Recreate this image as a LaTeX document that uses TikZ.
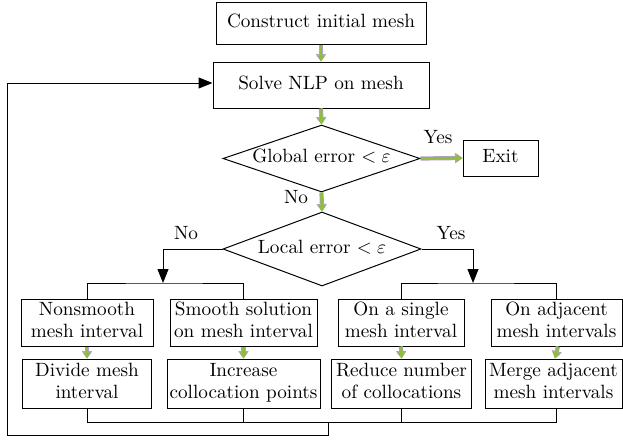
\documentclass[tikz,border=0pt]{standalone}
\usetikzlibrary{shapes.geometric,arrows.meta}
\definecolor{gcol}{HTML}{8DBF3F}
\definecolor{pcol}{HTML}{B99BCF}
\newcommand\bigtxt[1]{\scalebox{1.92}{\fontsize{10}{11.4}\selectfont\begin{tabular}{@{}c@{}}#1\end{tabular}}}
\tikzset{
  box/.style={draw, line width=1pt, rectangle, inner sep=0pt, align=center},
  dia/.style={draw, line width=1pt, diamond, inner sep=0pt},
  lbl/.style={inner sep=0pt},
  line/.style={line width=1pt},
  barrow/.style={line width=1pt, -{Triangle[width=11pt,length=14pt]}},
  garrow/.style={draw=gcol, line width=2.6pt, -{Triangle[width=8pt,length=6pt]},
    preaction={draw=pcol, line width=4.2pt, -{Triangle[width=10pt,length=7.5pt]}}}
}
\begin{document}
\begin{tikzpicture}[x=1pt,y=-1pt]
\useasboundingbox (0,0) rectangle (623,439);
% top chain
\node[box, minimum width=210pt, minimum height=42pt] (c1) at (321,23) {\bigtxt{Construct initial mesh}};
\node[box, minimum width=216pt, minimum height=46pt] (c2) at (321,85) {\bigtxt{Solve NLP on mesh}};
\node[dia, minimum width=197pt, minimum height=67pt] (d1) at (321.5,158.5) {};
\node[lbl] (t1) at (d1) {\bigtxt{Global error $<\varepsilon$}};
\node[box, minimum width=75pt, minimum height=36pt] (ex) at (500.5,158) {\bigtxt{Exit}};
\node[dia, minimum width=198pt, minimum height=74pt] (d2) at (322,249) {};
\node[lbl] (t2) at (d2) {\bigtxt{Local error $<\varepsilon$}};
% row 1
\node[box, minimum width=132pt, minimum height=47pt] (n1) at (87,322.5) {\bigtxt{Nonsmooth\\mesh interval}};
\node[box, minimum width=147pt, minimum height=47pt] (n2) at (243.5,322.5) {\bigtxt{Smooth solution\\on mesh interval}};
\node[box, minimum width=126pt, minimum height=47pt] (n3) at (401,322.5) {\bigtxt{On a single\\mesh interval}};
\node[box, minimum width=131pt, minimum height=47pt] (n4) at (556.5,322.5) {\bigtxt{On adjacent\\mesh intervals}};
% row 2
\node[box, minimum width=129pt, minimum height=49pt] (m1) at (87,383.5) {\bigtxt{Divide mesh\\interval}};
\node[box, minimum width=153pt, minimum height=49pt] (m2) at (243.5,383.5) {\bigtxt{Increase\\collocation points}};
\node[box, minimum width=140pt, minimum height=49pt] (m3) at (401.5,383.5) {\bigtxt{Reduce number\\of collocations}};
\node[box, minimum width=137pt, minimum height=49pt] (m4) at (553.5,383.5) {\bigtxt{Merge adjacent\\mesh intervals}};
% labels
\node[lbl] (yes1) at (438,139) {\bigtxt{Yes}};
\node[lbl] (no1) at (296,199) {\bigtxt{No}};
\node[lbl] (no2) at (186,235) {\bigtxt{No}};
\node[lbl] (yes2) at (451,235) {\bigtxt{Yes}};
% green arrows
\draw[garrow] (c1.south) -- (c2.north);
\draw[garrow] (c2.south) -- (d1.north);
\draw[garrow] (d1.south) -- (d2.north);
\draw[garrow] (d1.east) -- (ex.west);
\draw[garrow] (n1.south) -- (m1.north);
\draw[garrow] (n2.south) -- (m2.north);
\draw[garrow] (n3.south) -- (m3.north);
\draw[garrow] ([xshift=1.5pt]n4.south) -- ([xshift=1.5pt]m4.north);
% branches
\coordinate (bl) at (163,283);
\coordinate (br) at (473,283);
\draw[barrow] (d2.west) -| (bl);
\draw[barrow] (d2.east) -| (br);
\draw[line] (n1.north) |- (bl) -| (n2.north);
\draw[line] (n3.north) |- (br) -| (n4.north);
% bottom collector and loop
\coordinate (j1) at (87,422);
\coordinate (j4) at (556,422);
\coordinate (jm) at (328,422);
\coordinate (lp1) at (328,435);
\coordinate (lp2) at (7,435);
\coordinate (lp3) at (7,83);
\draw[line] (m1.south) |- (j4) -- (m4.south -| j4);
\draw[line] (m2.south) -- (m2.south |- j1);
\draw[line] (m3.south) -- (m3.south |- j1);
\draw[barrow] (jm) -- (lp1) -- (lp2) -- (lp3) -- (lp3 -| c2.west);
\end{tikzpicture}
\end{document}
